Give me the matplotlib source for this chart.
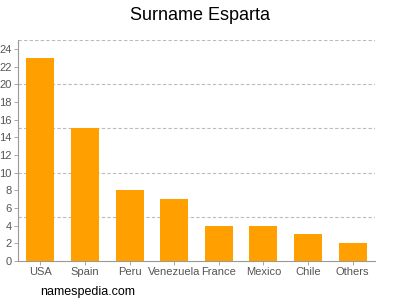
import matplotlib
matplotlib.use("Agg")
import matplotlib.pyplot as plt

plt.rcParams["font.family"] = ["Liberation Sans", "DejaVu Sans"]

categories = ["USA", "Spain", "Peru", "Venezuela", "France", "Mexico", "Chile", "Others"]
values = [23, 15, 8, 7, 4, 4, 3, 2]
yticks = list(range(0, 25, 2))
grid_levels = [5, 10, 15, 20, 25]

fig = plt.figure(figsize=(4, 3), dpi=100)
ax = fig.add_axes([18/400, 1 - 261/300, 357/400, 221/300])

x = list(range(len(categories)))
ax.bar(x, values, width=0.63, color="#FFA000", zorder=3)
ax.set_xlim(-0.5, len(categories) - 0.5)
ax.set_ylim(0, 25)

for g in grid_levels:
    ax.axhline(g, color="#bbbbbb", linestyle=(0, (3, 2)), linewidth=0.8, zorder=1)

ax.set_yticks(yticks)
ax.set_yticklabels([str(t) for t in yticks])
ax.set_xticks(x)
ax.set_xticklabels(categories)
ax.tick_params(axis="both", colors="#999999", labelcolor="#555555", labelsize=8, length=3, width=0.6, pad=1.5)
for s in ["top", "right"]:
    ax.spines[s].set_visible(False)
for s in ["left", "bottom"]:
    ax.spines[s].set_color("#999999")
    ax.spines[s].set_linewidth(0.8)

fig.text(0.5, 1 - 15/300, "Surname Esparta", ha="center", va="center", fontsize=13, color="#000000")
fig.text(40/400, 1 - 292/300, "namespedia.com", ha="left", va="center", fontsize=9, color="#000000")

fig.savefig("out.png", dpi=100)
